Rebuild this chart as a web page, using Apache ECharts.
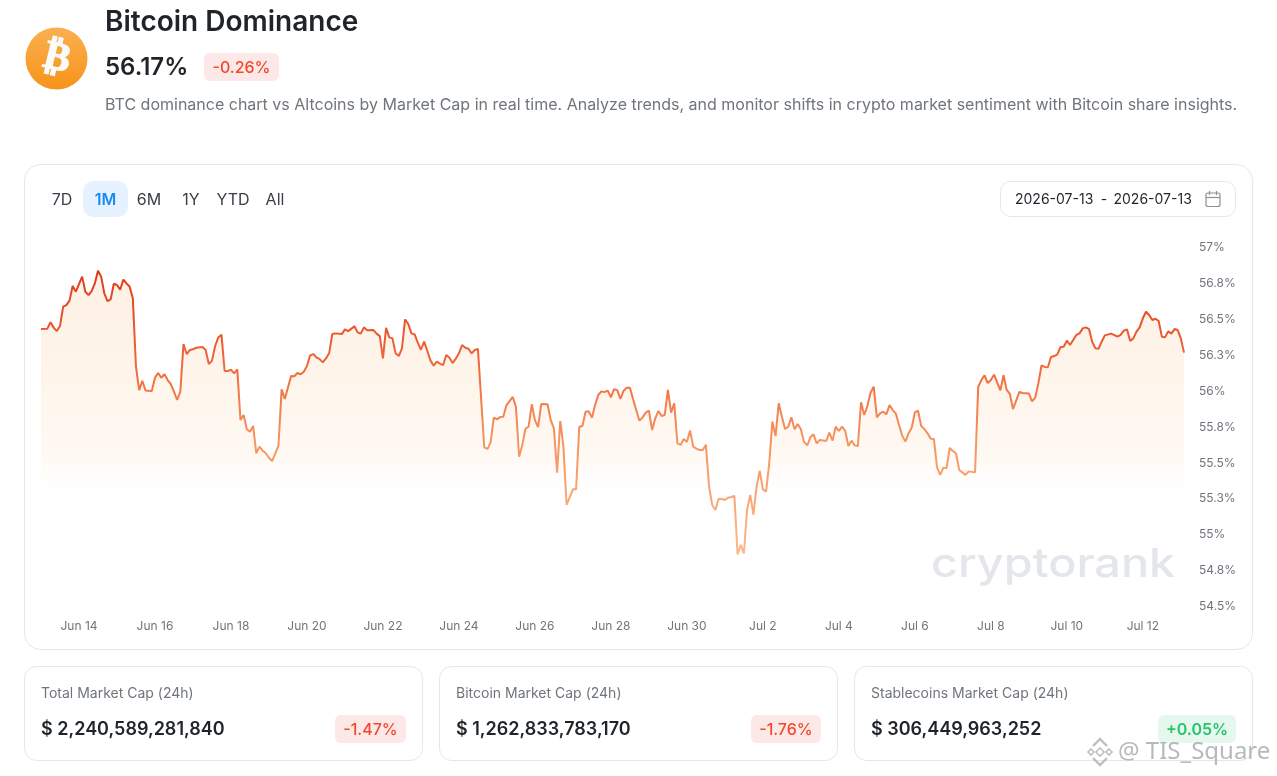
<!DOCTYPE html>
<html><head><meta charset="utf-8">
<style>html,body{margin:0;padding:0;background:#fff}#c{width:1277px;height:776px}</style>
<script src="https://cdn.jsdelivr.net/npm/echarts@6/dist/echarts.min.js"></script>
</head><body><div id="c"></div>
<script>
// Hours since 2026-06-13 00:00 UTC
const hours = [
0,4,6,8,10,12,14,16,18,20,
22,26,28,30,32,34,36,38,40,42,
44,46,48,50,52,54,56,58,60,62,
64,66,70,72,74,76,78,80,82,84,
86,88,90,92,94,96,98,102,104,106,
108,110,112,114,116,118,120,122,124,126,
128,130,132,134,136,138,140,142,144,146,
150,152,154,158,160,162,164,166,168,170,
172,174,176,178,180,182,
184,186,190,192,194,198,200,202,204,206,
210,212,214,216,218,220,222,224,226,228,
230,232,234,236,238,240,242,244,246,248,
250,252,254,256,258,260,262,264,266,268,
270,272,274,276,280,282,284,286,288,290,
292,294,296,298,300,302,304,306,308,310,
312,314,316,320,322,324,326,328,330,332,
336,338,340,342,344,346,348,350,352,354,
356,358,360,362,364,
366,368,370,372,374,376,378,380,382,384,
386,388,390,392,394,396,398,400,402,404,
406,408,410,412,414,416,418,420,422,424,
426,428,430,432,434,436,438,440,442,444,
446,448,450,452,454,456,458,460,462,464,
466,468,470,472,474,476,478,480,482,484,
486,488,490,492,496,498,500,502,504,506,
508,510,512,514,516,518,520,522,524,526,
528,530,532,534,536,538,540,542,544,546,
548,
550,552,554,556,558,560,562,564,566,568,
570,572,574,576,578,580,582,584,586,590,
592,594,596,598,600,602,604,606,608,610,
612,614,618,620,624,626,628,630,632,634,
636,638,640,642,644,646,648,650,652,654,
656,658,660,662,664,666,668,670,672,676,
680,682,684,686,688,690,692,694,696,698,
700,702,704,706,708,710,712,714,716,718,
720,722];
const dominance = [
56.432,56.435,56.479,56.442,56.418,56.453,56.588,56.599,56.630,56.732,
56.692,56.797,56.692,56.669,56.697,56.750,56.838,56.797,56.681,56.627,
56.639,56.748,56.739,56.706,56.776,56.750,56.727,56.646,56.170,56.007,
56.072,56.005,56.000,56.093,56.126,56.093,56.117,56.077,56.049,55.996,
55.938,55.996,56.328,56.258,56.286,56.291,56.302,56.307,56.286,56.189,
56.212,56.314,56.374,56.393,56.140,56.140,56.149,56.124,56.151,55.799,
55.834,55.734,55.717,55.757,55.567,55.613,55.585,55.567,55.536,55.513,
55.620,56.012,55.945,56.105,56.103,56.126,56.117,56.135,56.175,56.249,
56.258,56.235,56.223,56.200,56.228,56.263,
56.397,56.402,56.397,56.430,56.418,56.451,56.409,56.400,56.444,56.423,
56.425,56.400,56.383,56.228,56.441,56.374,56.367,56.263,56.244,56.297,
56.499,56.467,56.402,56.395,56.337,56.288,56.344,56.281,56.214,56.177,
56.205,56.191,56.181,56.251,56.232,56.195,56.226,56.263,56.321,56.302,
56.295,56.263,56.286,56.293,55.608,55.597,55.641,55.815,55.803,55.819,
55.822,55.901,55.931,55.959,55.891,55.543,55.624,55.738,55.752,55.908,
55.798,55.750,55.910,55.908,55.798,55.740,55.432,55.791,55.613,55.207,
55.316,55.316,55.752,55.757,55.856,55.859,55.815,55.903,55.973,55.998,
55.993,56.003,55.956,56.014,56.007,
55.945,56.003,56.024,56.024,55.943,55.868,55.794,55.817,55.850,55.864,
55.729,55.810,55.862,55.827,55.834,56.008,55.850,55.915,55.636,55.625,
55.667,55.646,55.725,55.613,55.599,55.590,55.590,55.627,55.335,55.207,
55.172,55.249,55.249,55.242,55.258,55.263,55.270,54.863,54.929,54.870,
55.172,55.277,55.140,55.335,55.444,55.316,55.300,55.497,55.787,55.687,
55.915,55.822,55.736,55.752,55.817,55.734,55.771,55.734,55.646,55.622,
55.678,55.699,55.636,55.660,55.653,55.711,55.655,55.752,55.722,55.752,
55.722,55.618,55.655,55.622,55.618,55.922,55.834,55.896,55.989,56.031,
55.817,55.845,55.857,55.838,55.903,55.868,55.843,55.764,55.690,55.648,
55.706,
55.745,55.852,55.864,55.757,55.736,55.706,55.669,55.667,55.469,55.416,
55.467,55.462,55.604,55.583,55.567,55.451,55.434,55.416,55.441,55.434,
56.029,56.077,56.110,56.056,56.077,56.114,56.061,56.005,56.110,56.008,
55.980,55.875,55.994,55.987,55.984,55.929,55.954,56.054,56.179,56.168,
56.166,56.237,56.244,56.256,56.307,56.309,56.351,56.321,56.356,56.391,
56.402,56.437,56.444,56.432,56.344,56.298,56.295,56.344,56.388,56.400,
56.379,56.391,56.421,56.430,56.349,56.367,56.414,56.444,56.507,56.553,
56.530,56.495,56.504,56.488,56.379,56.374,56.416,56.400,56.432,56.425,
56.367,56.268];
const xTickLabels = ['Jun 14','Jun 16','Jun 18','Jun 20','Jun 22','Jun 24','Jun 26','Jun 28','Jun 30','Jul 2','Jul 4','Jul 6','Jul 8','Jul 10','Jul 12'];
const xTickHours = [24,72,120,168,216,264,312,360,408,456,504,552,600,648,696];
const rangeTabs = ['7D','1M','6M','1Y','YTD','All'];
const statLabels = ['Total Market Cap (24h)','Bitcoin Market Cap (24h)','Stablecoins Market Cap (24h)'];
const statValues = ['$ 2,240,589,281,840','$ 1,262,833,783,170','$ 306,449,963,252'];
const statChanges = ['-1.47%','-1.76%','+0.05%'];

const seriesData = hours.map((h,i)=>[h,dominance[i]]);
const FF = 'Inter, sans-serif';
const txt = (x,y,text,size,color,weight,align,extra) => ({type:'text',x,y,silent:true,z:10,style:Object.assign({text,fontSize:size,fontFamily:FF,fill:color,fontWeight:weight||400,align:align||'left',verticalAlign:'middle'},extra||{})});
const rect = (x,y,w,h,r,fill,stroke,z) => ({type:'rect',silent:true,z:z===undefined?1:z,shape:{x,y,width:w,height:h,r},style:{fill:fill||'#fff',stroke:stroke||null,lineWidth:1}});

const RED='#f2492e', GREEN='#27c46b', INK='#1f2429', GREY='#6f757c';
const tabX=[62,105.5,149,191,233,275];
const g=[];
// logo
g.push({type:'circle',silent:true,z:2,shape:{cx:56.5,cy:58.5,r:31},style:{fill:new echarts.graphic.LinearGradient(0,0,0,1,[{offset:0,color:'#fab050'},{offset:1,color:'#f7931a'}])}});
g.push({type:'text',silent:true,z:3,x:57,y:59,rotation:-0.24,style:{text:'₿',fontSize:40,fontFamily:'DejaVu Sans',fontWeight:700,fill:'#fbfbfb',stroke:'#fbfbfb',lineWidth:1.2,align:'center',verticalAlign:'middle'}});
// header
g.push(txt(105,68,'56.17%',24,INK,600));
g.push(rect(204,53,75,28,6,'#fde8e8'));
g.push(txt(241.5,68,'-0.26%',16,RED,500,'center'));
g.push(txt(105,105,'BTC dominance chart vs Altcoins by Market Cap in real time. Analyze trends, and monitor shifts in crypto market sentiment with Bitcoin share insights.',16,GREY));
// chart card
g.push(rect(24.5,164.5,1228,485,16,'#fff','#e4e7ea',0));
g.push(rect(83,181,45,36,10,'#e6f2ff'));
rangeTabs.forEach((t,i)=>g.push(txt(tabX[i],200,t,16,i===1?'#1a8cf0':'#3a4047',i===1?600:400,'center')));
g.push(rect(1000.5,181.5,235,35,10,'#fff','#e4e7ea'));
g.push(txt(1015,200,'2026-07-13',14,INK));
g.push(txt(1104,200,'-',14,INK,400,'center'));
g.push(txt(1113.5,200,'2026-07-13',14,INK));
// calendar icon
g.push({type:'rect',silent:true,z:5,shape:{x:1206,y:193,width:14,height:13.5,r:2},style:{fill:'none',stroke:'#8b9197',lineWidth:1.2}});
g.push({type:'line',silent:true,z:5,shape:{x1:1206,y1:197.5,x2:1220,y2:197.5},style:{stroke:'#8b9197',lineWidth:1.2}});
g.push({type:'line',silent:true,z:5,shape:{x1:1209.5,y1:191,x2:1209.5,y2:195},style:{stroke:'#8b9197',lineWidth:1.2}});
g.push({type:'line',silent:true,z:5,shape:{x1:1216.5,y1:191,x2:1216.5,y2:195},style:{stroke:'#8b9197',lineWidth:1.2}});
// watermark
g.push({type:'text',silent:true,z:0,x:931,y:565,scaleX:1.17,style:{text:'cryptorank',fontSize:40,fontFamily:FF,fontWeight:500,fill:'#e3e6ea',align:'left',verticalAlign:'middle'}});
// stat cards
[24.5,439.5,854.5].forEach((x,i)=>{
  g.push(rect(x,666.5,398,94,12,'#fff','#e4e7ea',0));
  g.push(txt(x+16.5,694,statLabels[i],14,GREY));
  g.push(txt(x+16.5,730,statValues[i],18,INK,600));
});
[[335,71],[751,70],[1158,78]].forEach((b,i)=>{
  const up=statChanges[i][0]==='+';
  g.push(rect(b[0],715,b[1],28,6,up?'#e6f8ee':'#fde8e8'));
  g.push(txt(b[0]+b[1]/2,730,statChanges[i],16,up?GREEN:RED,up?600:500,'center'));
});
// corner tag
const TAG='rgba(172,176,180,.8)';
const dia=(cx,cy,r)=>[[cx,cy-r],[cx+r,cy],[cx,cy+r],[cx-r,cy]];
[[1100,752,4],[1091,752,3],[1109,752,3]].forEach(d=>g.push({type:'polygon',silent:true,z:20,shape:{points:dia(d[0],d[1],d[2])},style:{fill:'none',stroke:TAG,lineWidth:1.6}}));
g.push({type:'polyline',silent:true,z:20,shape:{points:[[1093,746],[1100,739],[1107,746]]},style:{fill:'none',stroke:TAG,lineWidth:2.4}});
g.push({type:'polyline',silent:true,z:20,shape:{points:[[1093,758],[1100,765],[1107,758]]},style:{fill:'none',stroke:TAG,lineWidth:2.4}});
g.push({type:'text',silent:true,z:20,x:1118,y:752,style:{text:'@ TIS_Square',fontSize:24,fontFamily:'Noto Sans',fill:'rgba(165,169,173,.8)',align:'left',verticalAlign:'middle'}});

const chart = echarts.init(document.getElementById('c'),null,{width:1277,height:776,renderer:'canvas'});
chart.setOption({
  animation:false, backgroundColor:'#fff',
  title:{text:'Bitcoin Dominance',left:105,top:9,padding:0,textStyle:{fontFamily:FF,fontSize:28,fontWeight:600,color:INK}},
  graphic:{elements:g},
  grid:{left:41,right:93,top:247.5,bottom:169.5,containLabel:false},
  xAxis:{type:'value',min:0,max:722,
    axisLine:{show:false},axisTick:{show:false},splitLine:{show:false},
    axisLabel:{customValues:xTickHours,margin:14,fontFamily:FF,fontSize:12,color:GREY,hideOverlap:false,
      formatter:v=>xTickLabels[xTickHours.indexOf(v)]||''}},
  yAxis:{type:'value',position:'right',min:54.5,max:57,interval:0.25,
    axisLine:{show:false},axisTick:{show:false},splitLine:{show:false},
    axisLabel:{margin:15,padding:[4,0,0,0],fontFamily:FF,fontSize:12,color:GREY,formatter:v=>(+v.toFixed(1))+'%'}},
  series:[{type:'line',data:seriesData,showSymbol:false,smooth:false,z:5,
    lineStyle:{width:2,color:{type:'linear',x:0,y:270,x2:0,y2:555,global:true,colorStops:[{offset:0,color:'#e03a1c'},{offset:.3,color:'#ef6236'},{offset:.6,color:'#f6945f'},{offset:1,color:'#fbb88e'}]}},
    areaStyle:{color:{type:'linear',x:0,y:270,x2:0,y2:505,global:true,colorStops:[{offset:0,color:'#fdeada'},{offset:.45,color:'#fef0e2'},{offset:.8,color:'#fff7ef'},{offset:1,color:'rgba(255,255,255,0)'}]}}
  }]
});
</script></body></html>
